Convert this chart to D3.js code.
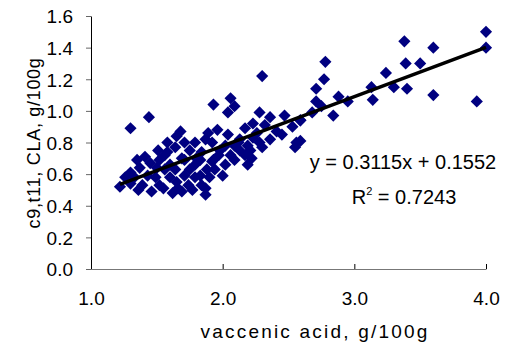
<!DOCTYPE html>
<html>
<head>
<meta charset="utf-8">
<script src="https://cdn.jsdelivr.net/npm/d3@7"></script>
<style>
  body { margin: 0; background: #fff; }
  text { font-family: "Liberation Sans", Arial, sans-serif; }
</style>
</head>
<body>
<div id="chart"></div>
<script>
// vaccenic acid (g/100g) vs c9,t11 CLA (g/100g)
const vaccenic = [
  4.00, 4.00, 3.93, 3.60, 3.60, 3.50, 3.38, 3.39, 3.40, 3.30, 3.24, 3.13, 3.14, 2.95, 2.88, 2.84,
  2.78, 2.77, 2.71, 2.71, 2.75, 2.59, 2.59, 2.68, 2.30, 1.93, 2.06, 2.04, 2.09, 1.44, 1.30, 2.28,
  2.36, 2.47, 2.53, 2.59, 2.23, 2.32, 2.41, 2.56, 1.96, 1.68, 1.65, 1.89, 1.87, 1.58, 1.79, 1.71,
  2.28, 2.23, 2.19, 1.92, 2.17, 1.22, 1.30, 1.33, 1.39, 1.46, 1.35, 1.41, 1.45, 1.50, 1.55, 1.62,
  1.69, 1.65, 1.74, 1.87, 1.84, 1.58, 1.64, 1.69, 1.84, 1.79, 1.71, 1.92, 2.00, 2.19, 2.22, 2.30,
  2.55, 1.87, 1.88, 1.93, 1.52, 1.56, 1.64, 1.71, 1.75, 1.79, 1.90, 1.94, 2.02, 2.06, 2.09, 2.13,
  2.17, 1.98, 2.02, 2.09, 2.13, 2.04, 1.75, 1.80, 1.60, 1.66, 1.77, 1.49, 1.52, 1.43, 1.37, 1.26,
  1.36, 1.30, 1.51, 1.56, 1.83, 1.83, 2.21, 2.36, 2.45, 2.26, 2.12, 1.97, 1.60
];
const cla = [
  1.50, 1.40, 1.06, 1.40, 1.10, 1.30, 1.44, 1.30, 1.14, 1.15, 1.24, 1.15, 1.07, 1.06, 1.09, 0.97,
  1.31, 1.20, 1.14, 1.06, 1.03, 0.94, 0.81, 0.99, 1.22, 1.04, 1.08, 0.99, 1.03, 0.96, 0.89, 0.99,
  0.96, 0.97, 0.90, 0.94, 0.92, 0.91, 0.87, 0.80, 0.88, 0.87, 0.84, 0.86, 0.82, 0.80, 0.80, 0.80,
  0.80, 0.83, 0.78, 0.80, 0.89, 0.52, 0.61, 0.58, 0.53, 0.49, 0.69, 0.71, 0.67, 0.64, 0.51, 0.48,
  0.49, 0.55, 0.53, 0.47, 0.53, 0.74, 0.77, 0.70, 0.74, 0.66, 0.59, 0.68, 0.59, 0.66, 0.70, 0.77,
  0.77, 0.51, 0.63, 0.69, 0.69, 0.63, 0.63, 0.69, 0.63, 0.58, 0.58, 0.63, 0.66, 0.72, 0.69, 0.75,
  0.72, 0.75, 0.78, 0.78, 0.82, 0.85, 0.75, 0.70, 0.58, 0.51, 0.50, 0.58, 0.53, 0.59, 0.64, 0.58,
  0.50, 0.54, 0.75, 0.72, 0.59, 0.69, 0.75, 0.82, 0.85, 0.86, 0.80, 0.72, 0.66
];

const xTicks = [1.0, 2.0, 3.0, 4.0];
const yTicks = [0.0, 0.2, 0.4, 0.6, 0.8, 1.0, 1.2, 1.4, 1.6];
const slope = 0.3115;
const intercept = 0.1552;
const rSquared = 0.7243;
const fitRange = [1.22, 4.0];

const width = 505, height = 347;
const margin = { top: 16, right: 19, bottom: 78, left: 91 };

const svg = d3.select('#chart').append('svg')
  .attr('width', width)
  .attr('height', height);

const x = d3.scaleLinear().domain([1, 4]).range([margin.left, width - margin.right]);
const y = d3.scaleLinear().domain([0, 1.6]).range([height - margin.bottom, margin.top]);

// y axis, ticks outward
const yAxis = svg.append('g')
  .attr('transform', 'translate(' + margin.left + ',0)')
  .call(d3.axisLeft(y).tickValues(yTicks).tickFormat(d3.format('.1f')).tickSize(5).tickSizeOuter(0));
yAxis.select('.domain').attr('stroke', '#000');
yAxis.selectAll('line').attr('stroke', '#666');
yAxis.selectAll('text').attr('font-size', 19).attr('fill', '#000').attr('x', -18).attr('dy', '0.36em');

// x axis, ticks inward
const xAxis = svg.append('g')
  .attr('transform', 'translate(0,' + y(0) + ')')
  .call(d3.axisBottom(x).tickValues(xTicks).tickFormat(d3.format('.1f')).tickSize(-5).tickSizeOuter(0));
xAxis.select('.domain').attr('stroke', '#777');
xAxis.selectAll('line').attr('stroke', '#000');
xAxis.selectAll('text').attr('font-size', 19).attr('fill', '#000').attr('y', 36).attr('dy', 0);

// points
const points = vaccenic.map((v, i) => ({ x: v, y: cla[i] }));
const diamond = d3.symbol().type(d3.symbolSquare).size(74);
svg.append('g').selectAll('path')
  .data(points)
  .join('path')
  .attr('d', diamond)
  .attr('transform', d => 'translate(' + x(d.x) + ',' + y(d.y) + ') rotate(45)')
  .attr('fill', '#000080');

// trend line
svg.append('line')
  .attr('x1', x(fitRange[0]))
  .attr('y1', y(slope * fitRange[0] + intercept))
  .attr('x2', x(fitRange[1]))
  .attr('y2', y(slope * fitRange[1] + intercept))
  .attr('stroke', '#000')
  .attr('stroke-width', 3.5);

// equation labels
svg.append('text')
  .attr('x', 403).attr('y', 169)
  .attr('text-anchor', 'middle')
  .attr('font-size', 20)
  .text('y = ' + slope + 'x + ' + intercept);
const r2 = svg.append('text')
  .attr('x', 404).attr('y', 204)
  .attr('text-anchor', 'middle')
  .attr('font-size', 20);
r2.append('tspan').text('R');
r2.append('tspan').attr('font-size', 11).attr('dy', -9).text('2');
r2.append('tspan').attr('dy', 9).text(' = ' + rSquared);

// axis titles
svg.append('text')
  .attr('x', 315).attr('y', 338)
  .attr('text-anchor', 'middle')
  .attr('font-size', 19)
  .attr('letter-spacing', 2.2)
  .text('vaccenic acid, g/100g');
svg.append('text')
  .attr('transform', 'translate(40,' + 143 + ') rotate(-90)')
  .attr('text-anchor', 'middle')
  .attr('font-size', 18)
  .attr('letter-spacing', 0.7)
  .text('c9,t11, CLA, g/100g');
</script>
</body>
</html>
